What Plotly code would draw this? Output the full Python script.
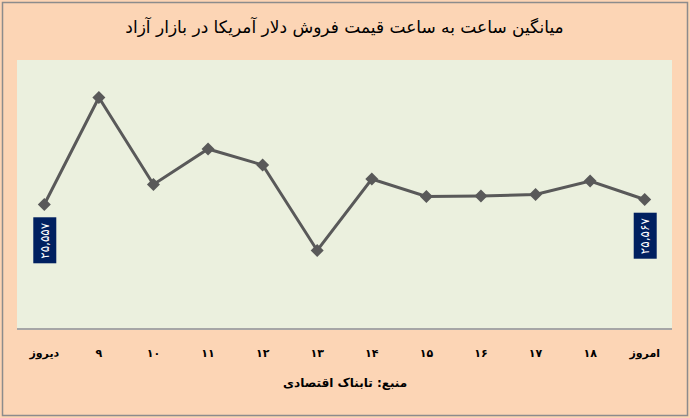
import plotly.graph_objects as go

categories = ["دیروز", "۹", "۱۰", "۱۱", "۱۲", "۱۳", "۱۴", "۱۵", "۱۶", "۱۷", "۱۸", "امروز"]
values = [25557, 25771, 25597, 25668, 25636, 25465, 25608, 25573, 25574, 25577, 25604, 25567]
label_texts = ["۲۵,۵۵۷", "۲۵,۵۶۷"]
label_idx = [0, 11]

title_text = "میانگین ساعت به ساعت قیمت فروش دلار آمریکا در بازار آزاد"
source_text = "منبع: تابناک اقتصادی"

FONT = "DejaVu Sans"

fig = go.Figure()
fig.add_trace(go.Scatter(
    x=list(range(len(categories))), y=values, mode="lines+markers",
    line=dict(color="#595959", width=3),
    marker=dict(symbol="diamond", size=10, color="#595959"),
    hoverinfo="skip", showlegend=False,
))

for t, i in zip(label_texts, label_idx):
    fig.add_annotation(
        x=i, y=values[i], xref="x", yref="y", text=t, showarrow=False,
        textangle=-90, yshift=-36, xanchor="center", yanchor="middle",
        bgcolor="#002060", font=dict(family=FONT, size=12, color="white"),
        borderpad=4,
    )

fig.add_annotation(
    x=0.5, y=-0.205, xref="paper", yref="paper", text=source_text, showarrow=False,
    font=dict(family=FONT, size=12, color="#000000", weight="bold"),
    xanchor="center", yanchor="middle",
)

fig.add_shape(
    type="rect", xref="paper", yref="paper",
    x0=(2.5 - 17) / 655, x1=(687.5 - 17) / 655,
    y0=(328 - 415.5) / 268, y1=(328 - 2.5) / 268,
    line=dict(color="#8C8C8C", width=1.5), fillcolor="rgba(0,0,0,0)", layer="above",
)

fig.update_layout(
    width=690, height=418,
    margin=dict(l=17, r=18, t=60, b=90),
    paper_bgcolor="#FCD5B5",
    plot_bgcolor="#EBF0DE",
    title=dict(text=title_text, x=0.5, xref="paper", xanchor="center", y=1 - 27 / 418, yanchor="middle",
               font=dict(family=FONT, size=17, color="#000000")),
    xaxis=dict(
        range=[-0.5, len(categories) - 0.5],
        tickmode="array", tickvals=list(range(len(categories))), ticktext=categories,
        showgrid=False, zeroline=False, showline=True, linecolor="#A6A6A6", linewidth=1.5,
        ticks="", tickfont=dict(family=FONT, size=11, color="#000000", weight="bold"),
        ticklabelstandoff=14,
    ),
    yaxis=dict(range=[25310, 25846], visible=False, showgrid=False),
)

fig.write_html("out.html", config={"displayModeBar": False},
               post_script="document.body.style.margin='0';document.body.style.padding='0';")
